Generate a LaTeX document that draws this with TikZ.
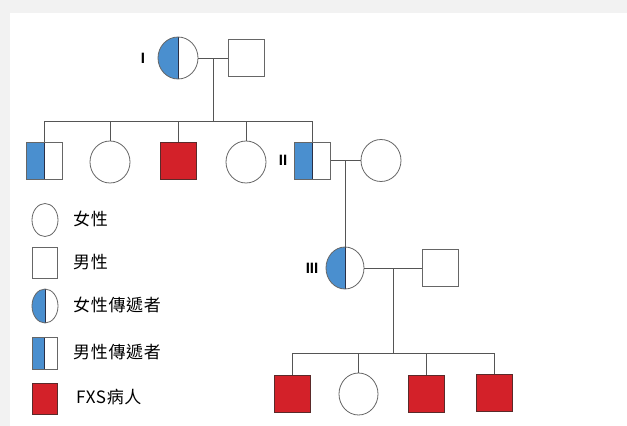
\documentclass[tikz,border=0pt]{standalone}
\usepackage{fontspec}
\setmainfont{Liberation Sans}
\newfontfamily\cjk{Noto Sans CJK TC}[LetterSpace=4]
\usetikzlibrary{shapes.geometric}
\definecolor{carrier}{HTML}{4A8FCF}
\definecolor{fxs}{HTML}{D32129}
\definecolor{shapegray}{HTML}{666666}
\definecolor{linegray}{HTML}{555555}
\definecolor{darkline}{HTML}{2A2F45}
\definecolor{darkred}{HTML}{5A2A2A}
\definecolor{framegray}{HTML}{F2F2F2}
\begin{document}
\begin{tikzpicture}[x=1pt,y=-1pt,
  female/.style={ellipse, draw=shapegray, line width=0.8pt, fill=white, minimum width=40pt, minimum height=42pt, inner sep=0pt},
  male/.style={rectangle, draw=shapegray, line width=0.8pt, fill=white, minimum width=36pt, minimum height=37pt, inner sep=0pt},
  halfleft/.style={path picture={\fill[carrier] (path picture bounding box.south west) rectangle (path picture bounding box.north);
      \draw[darkline, line width=1pt] (path picture bounding box.south) -- (path picture bounding box.north);}},
  fcarrier/.style={female, halfleft},
  mcarrier/.style={male, halfleft},
  affected/.style={male, fill=fxs, draw=darkred},
  link/.style={draw=linegray, line width=0.8pt},
  genlabel/.style={font=\bfseries\fontsize{15}{15}\selectfont, inner sep=0pt},
  legtext/.style={anchor=west, inner sep=0pt, font=\cjk\fontsize{17}{17}\selectfont},
]
\useasboundingbox (0,0) rectangle (627,426);
\fill[framegray] (0,0) rectangle (627,426);
\fill[white] (10,13) rectangle (627,426);

% Generation I
\node[fcarrier] (f1) at (178,58) {};
\node[male] (m1) at (246,58) {};
\node[genlabel] (lI) at (143,58) {I};
\coordinate (c1) at (213,58);
\coordinate (b1) at (213,121);
\draw[link] (f1.east) -- (m1.west);
\draw[link] (c1) -- (b1);

% Generation II
\node[mcarrier] (s1) at (44.5,160.5) {};
\node[female] (s2) at (110,162) {};
\node[affected] (s3) at (178,160.5) {};
\node[female] (s4) at (246,162) {};
\node[mcarrier] (s5) at (312.5,160.5) {};
\node[female] (w2) at (381,160.5) {};
\node[genlabel] (lII) at (283,160) {II};
\foreach \n in {s1,s2,s3,s4,s5} \draw[link] (\n.north) |- (b1);
\coordinate (c2) at (345,160.5);
\draw[link] (s5.east) -- (w2.west);

% Generation III
\node[fcarrier, minimum width=38pt] (f3) at (345,268) {};
\node[male] (m3) at (440,268) {};
\node[genlabel] (lIII) at (312,268) {III};
\draw[link] (c2) -- (f3.north);
\draw[link] (f3.east) -- (m3.west);
\coordinate (c3) at (393,268);
\coordinate (b3) at (393,353);
\draw[link] (c3) -- (b3);

% Generation IV
\node[affected] (k1) at (292.5,393.5) {};
\node[female, minimum width=39pt] (k2) at (358.5,394) {};
\node[affected] (k3) at (426.5,393.5) {};
\node[affected] (k4) at (494.5,393) {};
\foreach \n in {k1,k2,k3,k4} \draw[link] (\n.north) |- (b3);

% Legend
\node[female, minimum width=26pt, minimum height=33pt] (lg1) at (45,220) {};
\node[legtext] (lt1) at (73,219) {女性};
\node[male, minimum width=25pt, minimum height=31pt] (lg2) at (44.5,262.5) {};
\node[legtext] (lt2) at (73,262) {男性};
\node[fcarrier, minimum width=26pt, minimum height=34pt] (lg3) at (45,306) {};
\node[legtext] (lt3) at (73,305) {女性傳遞者};
\node[mcarrier, minimum width=25pt, minimum height=32pt] (lg4) at (44.5,353) {};
\node[legtext] (lt4) at (73,352) {男性傳遞者};
\node[affected, minimum width=25pt, minimum height=31pt] (lg5) at (44.5,398.5) {};
\node[legtext] (lt5) at (76,397) {FXS病人};
\end{tikzpicture}
\end{document}
